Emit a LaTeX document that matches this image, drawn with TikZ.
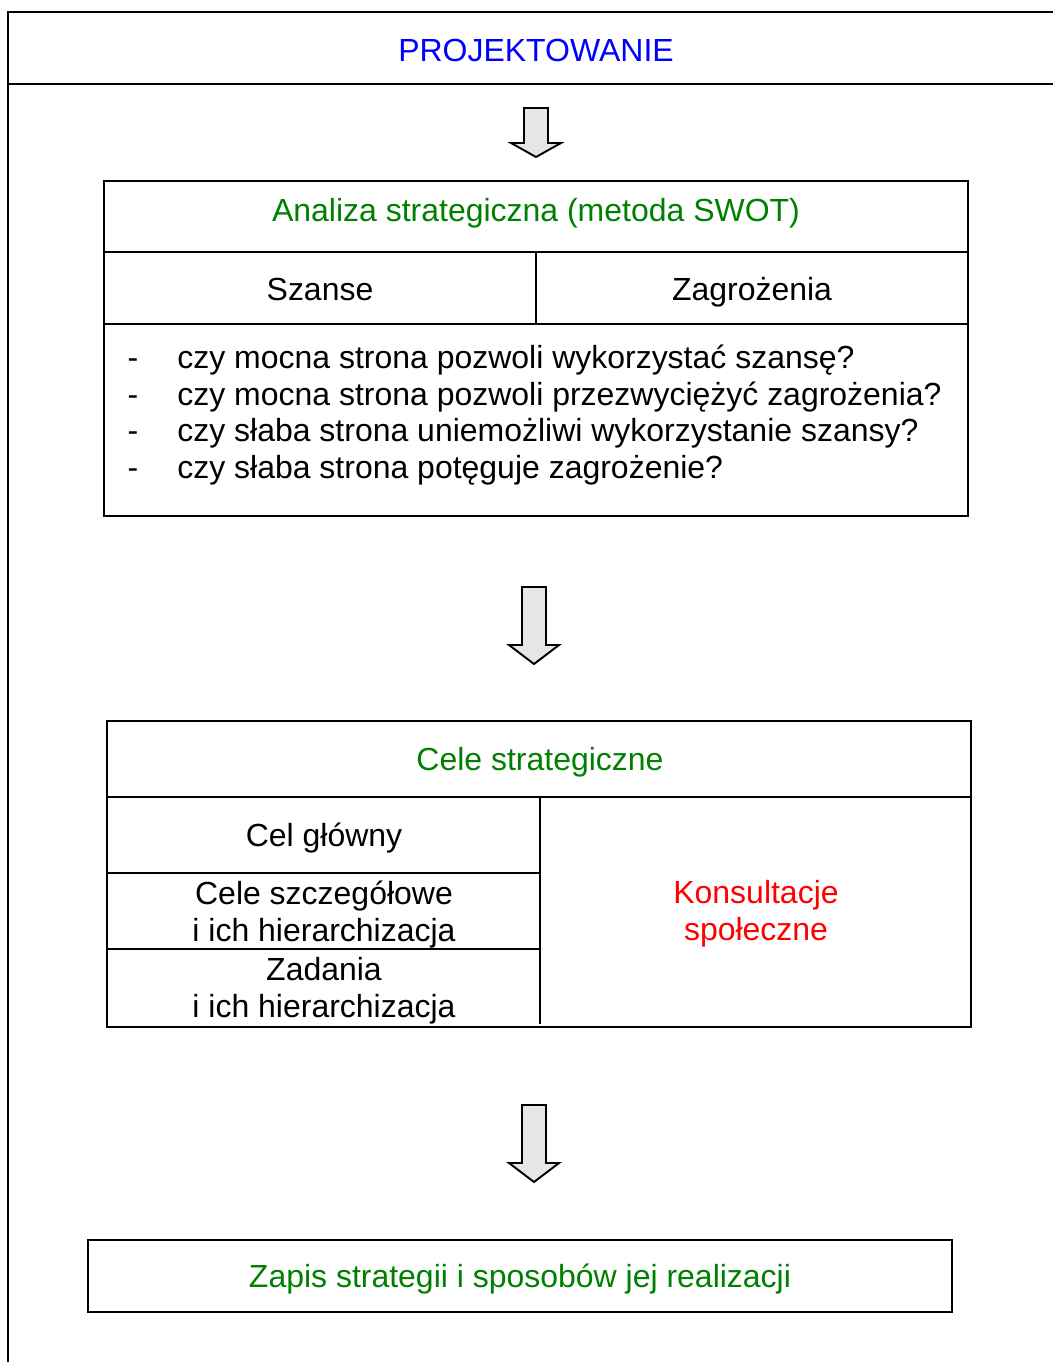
\documentclass[tikz,border=0pt]{standalone}
\usepackage{fontspec}
\setmainfont{Liberation Sans}
\usepackage{xcolor}
\usepackage{tikz}

\definecolor{tytul}{RGB}{0,0,255}
\definecolor{zielony}{RGB}{0,128,0}
\definecolor{czerwony}{RGB}{255,0,0}
\definecolor{strzalka}{RGB}{230,230,230}

\tikzset{
  ramka/.style={draw=black, line width=1.1pt},
  napis/.style={anchor=base, inner sep=0pt, align=center,
    font=\fontsize{18.2}{21}\selectfont},
  blokstrzalka/.style={draw=black, line width=1.1pt, fill=strzalka, line join=miter},
}

% strzalka blokowa: #1 = os x, #2 = gora trzonu, #3 = poczatek grotu, #4 = czubek
\newcommand{\strzalkaw}[4]{%
  \draw[blokstrzalka] (#1-12,#2) -- (#1+12,#2) -- (#1+12,#3) -- (#1+25,#3)
    -- (#1,#4) -- (#1-25,#3) -- (#1-12,#3) -- cycle;}

\begin{document}
\begin{tikzpicture}[x=0.02cm, y=-0.02cm]
    \useasboundingbox (0,0) rectangle (1053,1362);

    % ramka zewnetrzna
    \draw[ramka] (1070,12) -- (8,12) -- (8,1380);
    \draw[ramka] (8,84) -- (1070,84);
    \node[napis, text=tytul] (proj) at (536,62) {PROJEKTOWANIE};

    \strzalkaw{536}{108}{143}{157}

    % analiza SWOT
    \draw[ramka] (104,181) rectangle (968,516);
    \draw[ramka] (104,252) -- (968,252);
    \draw[ramka] (104,324) -- (968,324);
    \draw[ramka] (536,252) -- (536,324);
    \node[napis, text=zielony] (swot) at (536,221) {Analiza strategiczna (metoda SWOT)};
    \node[napis] (szanse) at (320,300) {Szanse};
    \node[napis] (zagr) at (752,300) {Zagrożenia};

    \foreach \i/\y/\txt in {1/368/czy mocna strona pozwoli wykorzystać szansę?,
                           2/405/czy mocna strona pozwoli przezwyciężyć zagrożenia?,
                           3/441/czy słaba strona uniemożliwi wykorzystanie szansy?,
                           4/478/czy słaba strona potęguje zagrożenie?} {
      \node[napis] (kr\i) at (133,\y) {-};
      \node[napis, anchor=base west] (pyt\i) at (177,\y) {\txt};
    }

    \strzalkaw{534}{587}{645}{664}

    % cele strategiczne
    \draw[ramka] (107,721) rectangle (971,1027);
    \draw[ramka] (107,797) -- (971,797);
    \draw[ramka] (540,797) -- (540,1024);
    \draw[ramka] (107,873) -- (540,873);
    \draw[ramka] (107,949) -- (540,949);
    \node[napis, text=zielony] (cele) at (540,770) {Cele strategiczne};
    \node[napis] (glowny) at (324,846) {Cel główny};
    \node[napis] (szczeg) at (324,941) {Cele szczegółowe\\i ich hierarchizacja};
    \node[napis] (zadania) at (324,1017) {Zadania\\i ich hierarchizacja};
    \node[napis, text=czerwony] (konsult) at (756,940) {Konsultacje\\społeczne};

    \strzalkaw{534}{1105}{1163}{1182}

    % zapis strategii
    \draw[ramka] (88,1240) rectangle (952,1312);
    \node[napis, text=zielony] (zapis) at (520,1287) {Zapis strategii i sposobów jej realizacji};
\end{tikzpicture}
\end{document}
